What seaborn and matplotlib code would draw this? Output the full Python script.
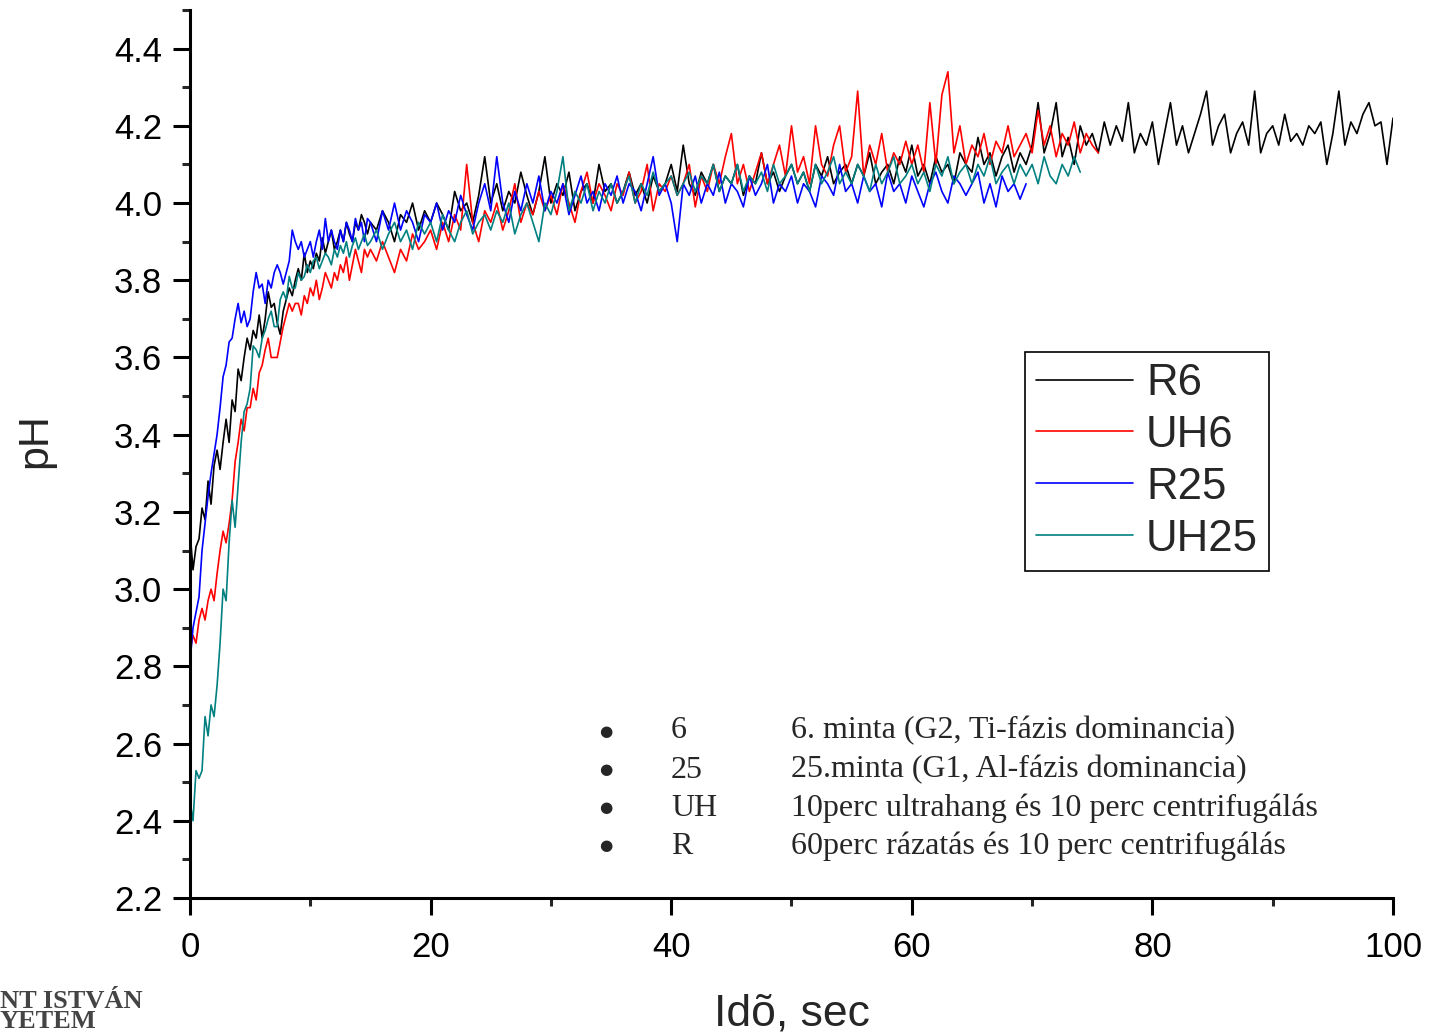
import numpy as np
import pandas as pd
import matplotlib
matplotlib.use("Agg")
import matplotlib.pyplot as plt
import seaborn as sns
from matplotlib.ticker import MultipleLocator, FormatStrFormatter

# ---------------- data (pH readings) ----------------
# first 15 s sampled every 0.25 s, afterwards every 0.5 s
R6_rise = [3.15, 3.05, 3.11, 3.13, 3.21, 3.18, 3.28, 3.22, 3.32, 3.36,
           3.31, 3.38, 3.44, 3.38, 3.49, 3.46, 3.57, 3.54, 3.60, 3.65,
           3.62, 3.67, 3.65, 3.71, 3.65, 3.70, 3.77, 3.73, 3.74, 3.69,
           3.66, 3.72, 3.75, 3.78, 3.76, 3.80, 3.83, 3.80, 3.87, 3.82,
           3.85, 3.83, 3.87, 3.85, 3.91, 3.87, 3.90, 3.93, 3.88, 3.90,
           3.93, 3.90, 3.95, 3.92, 3.90, 3.95, 3.93, 3.97, 3.95, 3.92]
R6_plateau = [3.95, 3.93, 3.98, 3.95, 3.90, 3.97, 3.95, 4.00, 3.93, 3.98,
              3.95, 4.00, 3.97, 3.93, 4.03, 3.98, 4.00, 3.95, 4.02, 4.12,
              4.00, 4.05, 3.98, 4.03, 4.00, 4.08, 4.02, 3.97, 4.03, 4.12,
              4.00, 4.05, 4.02, 4.08, 3.98, 4.03, 4.05, 4.00, 4.10, 4.03,
              4.05, 4.00, 4.03, 4.08, 4.02, 4.05, 4.00, 4.07, 4.03, 4.05,
              4.10, 4.03, 4.15, 4.05, 4.02, 4.08, 4.05, 4.10, 4.03, 4.07,
              4.05, 4.10, 4.02, 4.07, 4.05, 4.13, 4.05, 4.08, 4.03, 4.07,
              4.10, 4.05, 4.08, 4.03, 4.10, 4.07, 4.12, 4.05, 4.08, 4.10,
              4.05, 4.10, 4.07, 4.13, 4.05, 4.08, 4.10, 4.05, 4.12, 4.08,
              4.15, 4.07, 4.10, 4.05, 4.12, 4.08, 4.10, 4.05, 4.13, 4.10,
              4.08, 4.17, 4.10, 4.13, 4.07, 4.12, 4.15, 4.08, 4.13, 4.10,
              4.15, 4.26, 4.13, 4.18, 4.26, 4.12, 4.17, 4.10, 4.20, 4.15,
              4.18, 4.13, 4.21, 4.15, 4.20, 4.16, 4.26, 4.13, 4.18, 4.15,
              4.21, 4.10, 4.18, 4.26, 4.15, 4.20, 4.13, 4.18, 4.23, 4.29,
              4.15, 4.20, 4.23, 4.13, 4.18, 4.21, 4.15, 4.29, 4.13, 4.18,
              4.20, 4.15, 4.23, 4.16, 4.18, 4.15, 4.20, 4.18, 4.21, 4.10,
              4.18, 4.29, 4.15, 4.21, 4.18, 4.23, 4.26, 4.20, 4.21, 4.10,
              4.22]

UH6_rise = [2.84, 2.88, 2.86, 2.92, 2.95, 2.92, 2.97, 3.00, 2.97, 3.04,
            3.10, 3.15, 3.12, 3.17, 3.23, 3.33, 3.38, 3.44, 3.41, 3.47,
            3.47, 3.52, 3.49, 3.56, 3.58, 3.62, 3.65, 3.60, 3.60, 3.60,
            3.64, 3.68, 3.71, 3.74, 3.72, 3.74, 3.74, 3.71, 3.76, 3.74,
            3.78, 3.76, 3.80, 3.75, 3.78, 3.82, 3.80, 3.78, 3.82, 3.80,
            3.84, 3.82, 3.86, 3.80, 3.84, 3.88, 3.85, 3.82, 3.88, 3.86]
UH6_plateau = [3.88, 3.85, 3.90, 3.86, 3.82, 3.88, 3.85, 3.92, 3.88, 3.90,
               3.93, 3.88, 3.95, 3.90, 3.97, 3.93, 4.10, 3.95, 3.90, 3.98,
               3.95, 4.00, 3.93, 3.98, 4.05, 3.95, 4.00, 3.97, 4.03, 3.98,
               4.02, 3.97, 4.05, 4.00, 3.95, 4.03, 4.08, 4.00, 4.05, 4.02,
               3.98, 4.05, 4.02, 4.08, 4.00, 4.03, 4.10, 3.98, 4.05, 4.03,
               4.07, 4.02, 4.05, 4.10, 3.99, 4.07, 4.03, 4.10, 4.05, 4.12,
               4.18, 4.05, 4.10, 4.03, 4.08, 4.13, 4.05, 4.10, 4.15, 4.07,
               4.20, 4.08, 4.12, 4.05, 4.20, 4.10, 4.07, 4.15, 4.20, 4.08,
               4.12, 4.29, 4.07, 4.15, 4.10, 4.18, 4.08, 4.13, 4.10, 4.16,
               4.10, 4.15, 4.08, 4.26, 4.10, 4.28, 4.34, 4.13, 4.20, 4.10,
               4.15, 4.12, 4.18, 4.10, 4.16, 4.13, 4.20, 4.12, 4.15, 4.18,
               4.13, 4.24, 4.15, 4.20, 4.12, 4.18, 4.15, 4.21, 4.13, 4.18,
               4.15, 4.13]

R25_rise = [2.81, 2.90, 2.94, 2.98, 3.10, 3.17, 3.24, 3.30, 3.35, 3.40,
            3.47, 3.55, 3.58, 3.64, 3.65, 3.70, 3.74, 3.69, 3.72, 3.68,
            3.70, 3.77, 3.82, 3.78, 3.79, 3.74, 3.80, 3.78, 3.82, 3.84,
            3.82, 3.79, 3.82, 3.85, 3.93, 3.90, 3.88, 3.90, 3.86, 3.88,
            3.90, 3.86, 3.90, 3.93, 3.88, 3.96, 3.90, 3.93, 3.90, 3.88,
            3.93, 3.90, 3.95, 3.93, 3.90, 3.96, 3.93, 3.95, 3.90, 3.96]
R25_plateau = [3.95, 3.90, 3.98, 3.93, 4.00, 3.93, 3.98, 3.95, 3.90, 3.97,
               3.95, 4.00, 3.93, 3.98, 3.95, 4.02, 3.97, 3.93, 4.00, 4.05,
               3.98, 4.12, 4.00, 3.95, 4.03, 3.98, 4.05, 4.00, 4.07, 3.98,
               4.03, 4.00, 4.05, 3.97, 4.02, 4.07, 4.00, 4.03, 3.98, 4.05,
               4.02, 4.07, 4.00, 4.05, 4.03, 3.98, 4.05, 4.12, 4.02, 4.05,
               4.00, 3.90, 4.05, 4.02, 4.07, 4.00, 4.05, 4.02, 4.08, 4.00,
               4.05, 4.03, 3.99, 4.07, 4.02, 4.05, 4.10, 4.00, 4.05, 4.03,
               4.07, 4.00, 4.05, 4.03, 3.99, 4.07, 4.05, 4.02, 4.10, 4.03,
               4.05, 4.00, 4.07, 4.03, 4.05, 3.99, 4.08, 4.03, 4.05, 4.00,
               4.07, 4.03, 3.99, 4.05, 4.08, 4.03, 4.00, 4.07, 4.05, 4.02,
               4.05, 4.08, 4.00, 4.05, 3.99, 4.07, 4.03, 4.05, 4.01, 4.05]

UH25_rise = [2.45, 2.40, 2.53, 2.51, 2.53, 2.67, 2.62, 2.70, 2.67, 2.75,
             2.86, 3.00, 2.97, 3.12, 3.23, 3.16, 3.27, 3.38, 3.46, 3.48,
             3.52, 3.63, 3.62, 3.60, 3.65, 3.67, 3.70, 3.72, 3.68, 3.68,
             3.75, 3.77, 3.75, 3.81, 3.78, 3.78, 3.82, 3.80, 3.81, 3.84,
             3.82, 3.85, 3.86, 3.83, 3.85, 3.87, 3.86, 3.84, 3.88, 3.86,
             3.89, 3.87, 3.90, 3.86, 3.89, 3.91, 3.88, 3.90, 3.92, 3.89]
UH25_plateau = [3.90, 3.93, 3.88, 3.92, 3.95, 3.90, 3.93, 3.88, 3.95, 3.92,
                3.95, 3.90, 3.97, 3.93, 3.90, 3.95, 3.98, 3.92, 3.95, 3.97,
                3.93, 3.98, 3.95, 4.00, 3.92, 3.97, 4.00, 3.95, 3.90, 4.00,
                3.97, 4.03, 4.12, 3.98, 4.03, 4.00, 4.05, 3.98, 4.03, 4.00,
                4.05, 4.00, 4.03, 4.07, 4.00, 4.05, 4.02, 4.08, 4.03, 4.05,
                4.07, 4.02, 4.05, 4.08, 4.03, 4.07, 4.05, 4.10, 4.03, 4.07,
                4.05, 4.10, 4.03, 4.07, 4.05, 4.08, 4.03, 4.10, 4.05, 4.07,
                4.10, 4.05, 4.08, 4.03, 4.10, 4.05, 4.08, 4.12, 4.05, 4.08,
                4.05, 4.10, 4.07, 4.03, 4.10, 4.05, 4.08, 4.12, 4.05, 4.07,
                4.10, 4.05, 4.08, 4.03, 4.10, 4.07, 4.12, 4.05, 4.08, 4.10,
                4.05, 4.10, 4.07, 4.12, 4.05, 4.08, 4.10, 4.05, 4.10, 4.07,
                4.10, 4.05, 4.12, 4.07, 4.05, 4.10, 4.07, 4.12, 4.08]

series_names = ["R6", "UH6", "R25", "UH25"]
series_colors = ["#000000", "#FF0000", "#0000FF", "#008080"]
x_ticks = [0, 20, 40, 60, 80, 100]
y_ticks = [2.2, 2.4, 2.6, 2.8, 3.0, 3.2, 3.4, 3.6, 3.8, 4.0, 4.2, 4.4]

note_keys = ["6", "25", "UH", "R"]
note_texts = ["6. minta (G2, Ti-fázis dominancia)",
              "25.minta (G1, Al-fázis dominancia)",
              "10perc ultrahang és 10 perc centrifugálás",
              "60perc rázatás és 10 perc centrifugálás"]

RISE_STEP, PLATEAU_STEP, PLATEAU_START = 0.25, 0.5, 15.0


def build(name, rise, plateau):
    t = np.concatenate([np.arange(len(rise)) * RISE_STEP,
                        PLATEAU_START + np.arange(len(plateau)) * PLATEAU_STEP])
    return pd.DataFrame({"t": t, "pH": np.array(rise + plateau), "series": name})


df = pd.concat([build("R6", R6_rise, R6_plateau),
                build("UH6", UH6_rise, UH6_plateau),
                build("R25", R25_rise, R25_plateau),
                build("UH25", UH25_rise, UH25_plateau)], ignore_index=True)

# ---------------- style ----------------
sns.set_style("ticks")
plt.rcParams["font.family"] = ["Liberation Sans", "DejaVu Sans"]

fig = plt.figure(figsize=(14.3, 10.34), dpi=100)
ax = fig.add_axes([190 / 1430, 1 - 898 / 1034, (1393 - 190) / 1430, (898 - 10) / 1034])

sns.lineplot(data=df, x="t", y="pH", hue="series", hue_order=series_names,
             palette=dict(zip(series_names, series_colors)),
             estimator=None, sort=False, linewidth=1.2, ax=ax)

ax.set_xlim(0, 100)
ax.set_ylim(2.2, 4.5)
ax.set_xticks(x_ticks)
ax.set_yticks(y_ticks)
ax.xaxis.set_minor_locator(MultipleLocator(10))
ax.yaxis.set_minor_locator(MultipleLocator(0.1))
ax.yaxis.set_major_formatter(FormatStrFormatter("%.1f"))

for s in ["top", "right"]:
    ax.spines[s].set_visible(False)
for s in ["left", "bottom"]:
    ax.spines[s].set_linewidth(2.2)
    ax.spines[s].set_color("black")

ax.tick_params(which="major", direction="out", length=12, width=2.2,
               labelsize=25, colors="black")
ax.tick_params(axis="x", which="major", pad=12)
ax.tick_params(axis="y", which="major", pad=8)
ax.tick_params(which="minor", direction="out", length=6, width=2.2)

ax.set_xlabel("Idõ, sec", fontsize=32, labelpad=21)
ax.set_ylabel("pH", fontsize=31)
ax.yaxis.set_label_coords(-0.112, 0.515)

handles, labels = ax.get_legend_handles_labels()
for h in handles:
    h.set_linewidth(1.2)
leg = ax.legend(handles, labels, loc="upper left", bbox_to_anchor=(0.694, 0.615),
                fontsize=31.5, frameon=True, fancybox=False, edgecolor="black",
                framealpha=1, borderpad=0.25, borderaxespad=0, handlelength=2.22,
                handletextpad=0.3, labelspacing=0.25)
leg.get_frame().set_linewidth(1.2)

# ---------------- annotations ----------------
serif = ["Liberation Serif", "DejaVu Serif"]
row_y = [731, 770, 808, 846]
for k, txt, yy in zip(note_keys, note_texts, row_y):
    yf = 1 - yy / 1034
    fig.text(606 / 1430, yf, "●", ha="center", va="center", fontsize=11,
             family=["DejaVu Sans"])
    fig.text(671 / 1430, yf, k, ha="left", va="center", fontsize=23, family=serif)
    fig.text(791 / 1430, yf, txt, ha="left", va="center", fontsize=23, family=serif)

fig.text(0.0, 1 - 990 / 1034, "NT ISTVÁN\nYETEM", ha="left", va="top",
         fontsize=19, family=serif, color="#444444", fontweight="bold",
         linespacing=0.85)

fig.savefig("out.png", dpi=100)
